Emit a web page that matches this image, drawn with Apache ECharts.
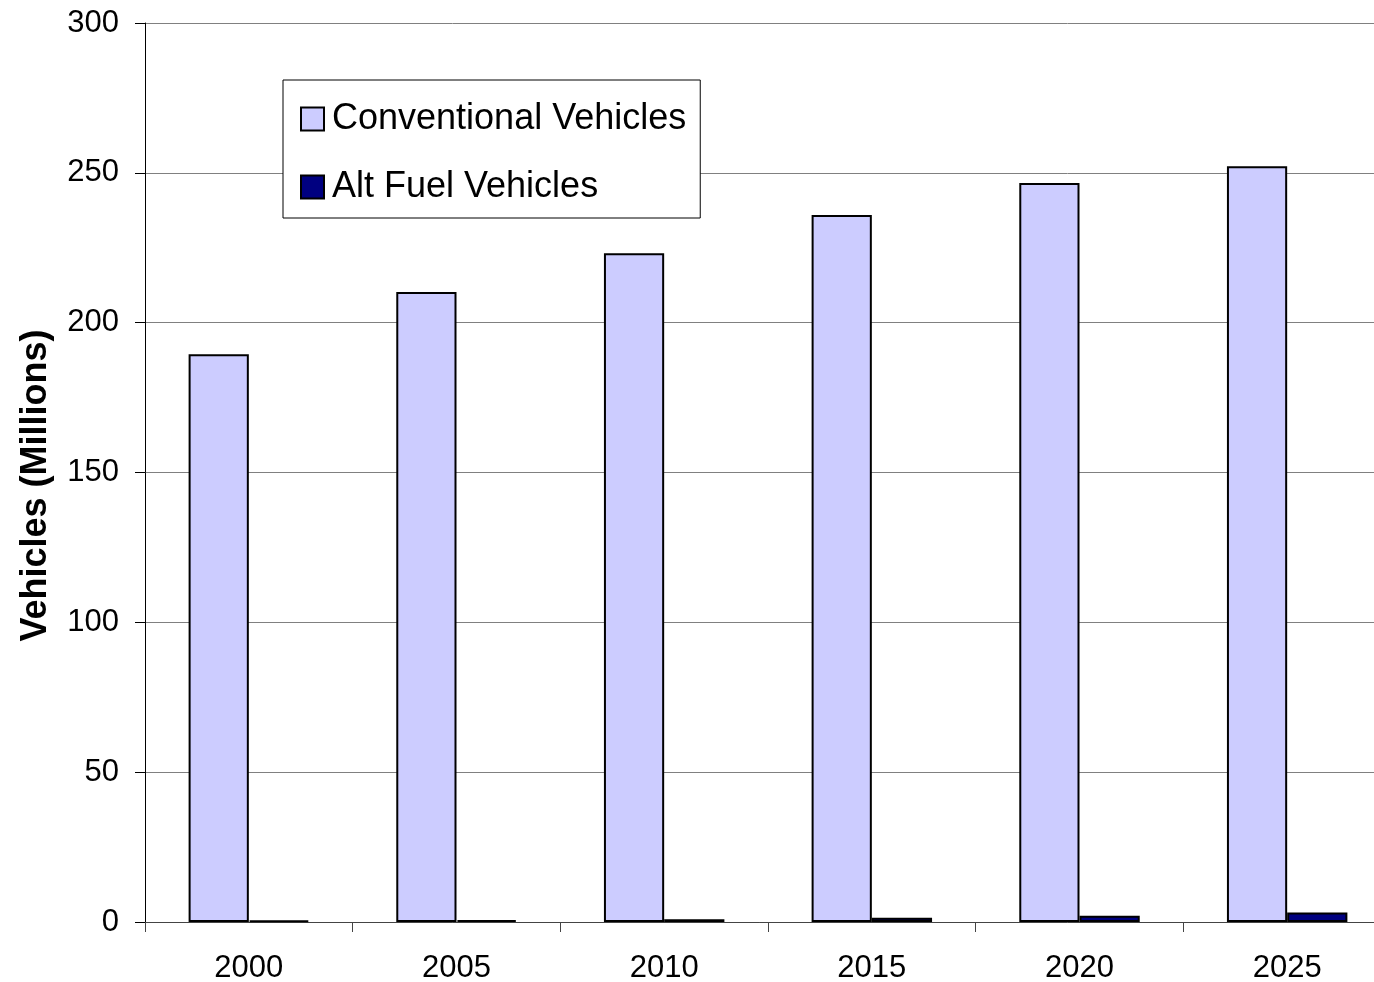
<!DOCTYPE html>
<html>
<head>
<meta charset="utf-8">
<script src="https://cdn.jsdelivr.net/npm/echarts@6/dist/echarts.min.js"></script>
<style>
  html, body { margin: 0; padding: 0; background: #fff; }
  #chart { width: 1374px; height: 982px; }
</style>
</head>
<body>
<div id="chart"></div>
<script>
// data
const years = ['2000', '2005', '2010', '2015', '2020', '2025']
const conventional = [189.5, 210.2, 223.2, 235.9, 246.6, 252.2]
const altFuel = [0.5, 0.6, 0.9, 1.4, 2.1, 3.2]

const font = '"Liberation Sans", Arial, sans-serif'

const chart = echarts.init(document.getElementById('chart'))

const option = {
  animation: false,
  backgroundColor: '#fff',
  textStyle: { fontFamily: font, color: '#000' },
  // plot runs past the right edge of the picture
  grid: { left: 145, width: 1246, top: 23, bottom: 60, outerBoundsMode: 'none' },
  legend: {
    orient: 'vertical',
    left: 283,
    top: 80,
    padding: [21, 14, 13, 17],
    itemGap: 32,
    itemWidth: 23,
    itemHeight: 23,
    icon: 'rect',
    borderColor: '#000',
    borderWidth: 1,
    backgroundColor: '#fff',
    textStyle: { fontSize: 36, color: '#000', fontFamily: font, padding: [0, 0, 0, 3] },
    data: ['Conventional Vehicles', 'Alt Fuel Vehicles']
  },
  xAxis: {
    type: 'category',
    data: years,
    boundaryGap: true,
    axisLine: { lineStyle: { color: '#444', width: 1 } },
    axisTick: { show: true, length: 10, alignWithLabel: false, lineStyle: { color: '#444' } },
    axisLabel: { fontSize: 31, color: '#000', margin: 31, fontFamily: font },
    splitLine: { show: false }
  },
  yAxis: {
    type: 'value',
    min: 0,
    max: 300,
    interval: 50,
    name: 'Vehicles (Millions)',
    nameLocation: 'middle',
    nameGap: 91,
    nameTextStyle: { fontSize: 36, fontWeight: 'bold', color: '#000', fontFamily: font, padding: [0, 26, 0, 0] },
    axisLine: { show: true, lineStyle: { color: '#000', width: 1 } },
    axisTick: { show: true, length: 10, lineStyle: { color: '#000' } },
    axisLabel: { fontSize: 31, color: '#000', margin: 26, fontFamily: font },
    splitLine: { show: true, lineStyle: { color: '#808080', width: 1 } }
  },
  series: [
    {
      name: 'Conventional Vehicles',
      type: 'bar',
      data: conventional,
      barGap: '0%',
      barCategoryGap: '42%',
      itemStyle: { color: '#ccccff', borderColor: '#000', borderWidth: 2 }
    },
    {
      name: 'Alt Fuel Vehicles',
      type: 'bar',
      data: altFuel,
      barGap: '0%',
      barCategoryGap: '42%',
      itemStyle: { color: '#000080', borderColor: '#000', borderWidth: 2 }
    }
  ]
}

chart.setOption(option)
</script>
</body>
</html>
